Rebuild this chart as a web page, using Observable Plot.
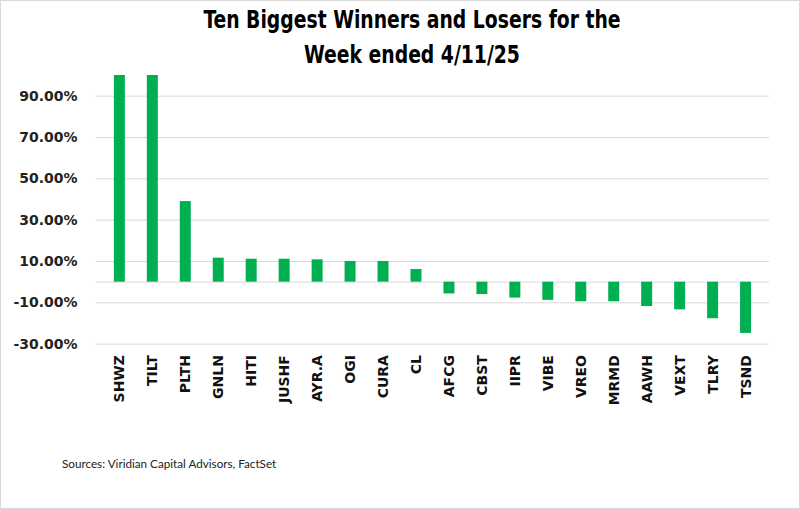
<!DOCTYPE html>
<html><head><meta charset="utf-8">
<script src="https://cdn.jsdelivr.net/npm/d3@7"></script>
<script src="https://cdn.jsdelivr.net/npm/@observablehq/plot@0.6"></script>
<style>
body{margin:0;background:#fff;}
#wrap{position:relative;width:798px;height:507px;border:1px solid #d9d9d9;overflow:hidden;background:#fff}
#title{position:absolute;top:0;left:12px;width:100%;text-align:center;font-family:"DejaVu Sans Condensed","DejaVu Sans",sans-serif;font-stretch:condensed;font-weight:bold;font-size:24px;line-height:35px;padding-top:2px;color:#000;transform:scaleX(0.87);transform-origin:center top}
#chart{position:absolute;top:69px;left:-1px}
#caption{position:absolute;left:61px;top:455px;font-family:Lato,sans-serif;font-size:11.7px;color:#222}
</style>
</head><body>
<div id="wrap">
  <div id="title">Ten Biggest Winners and Losers for the<br>Week ended 4/11/25</div>
  <div id="chart"></div>
  <div id="caption">Sources: Viridian Capital Advisors, FactSet</div>
</div>
<script>
const tickers = ["SHWZ","TILT","PLTH","GNLN","HITI","JUSHF","AYR.A","OGI","CURA","CL","AFCG","CBST","IIPR","VIBE","VREO","MRMD","AAWH","VEXT","TLRY","TSND"];
const changes = [100, 100, 39.0, 11.6, 11.1, 11.1, 10.8, 10.0, 10.0, 6.1, -5.7, -6.0, -7.7, -8.8, -9.5, -9.5, -11.8, -13.4, -17.7, -24.8];
const yTicks = [-30, -10, 10, 30, 50, 70, 90];

const data = tickers.map((t, i) => ({ticker: t, change: changes[i]}));

const chart = Plot.plot({
  width: 800,
  height: 365,
  marginTop: 5,
  marginLeft: 96,
  marginRight: 30,
  marginBottom: 91,
  style: {fontFamily: "'DejaVu Sans', sans-serif", background: "transparent", overflow: "visible"},
  x: {domain: tickers, paddingInner: 0.68, paddingOuter: 0.34, label: null},
  y: {domain: [-30, 100], label: null},
  marks: [
    Plot.gridY(yTicks, {stroke: "#d9d9d9", strokeOpacity: 1, strokeWidth: 1}),
    Plot.ruleY([0], {stroke: "#d9d9d9", strokeWidth: 1}),
    Plot.barY(data, {x: "ticker", y: "change", fill: "#00b050"}),
    Plot.axisY(yTicks, {tickSize: 0, tickPadding: 19, tickFormat: d => d.toFixed(2) + "%", fontSize: 14, fontWeight: "bold", fill: "#222", label: null}),
    Plot.axisX({tickSize: 0, tickPadding: 11, tickRotate: -90, fontSize: 14, fontWeight: "bold", fill: "#111", label: null})
  ]
});
document.getElementById("chart").appendChild(chart);
</script>
</body></html>
